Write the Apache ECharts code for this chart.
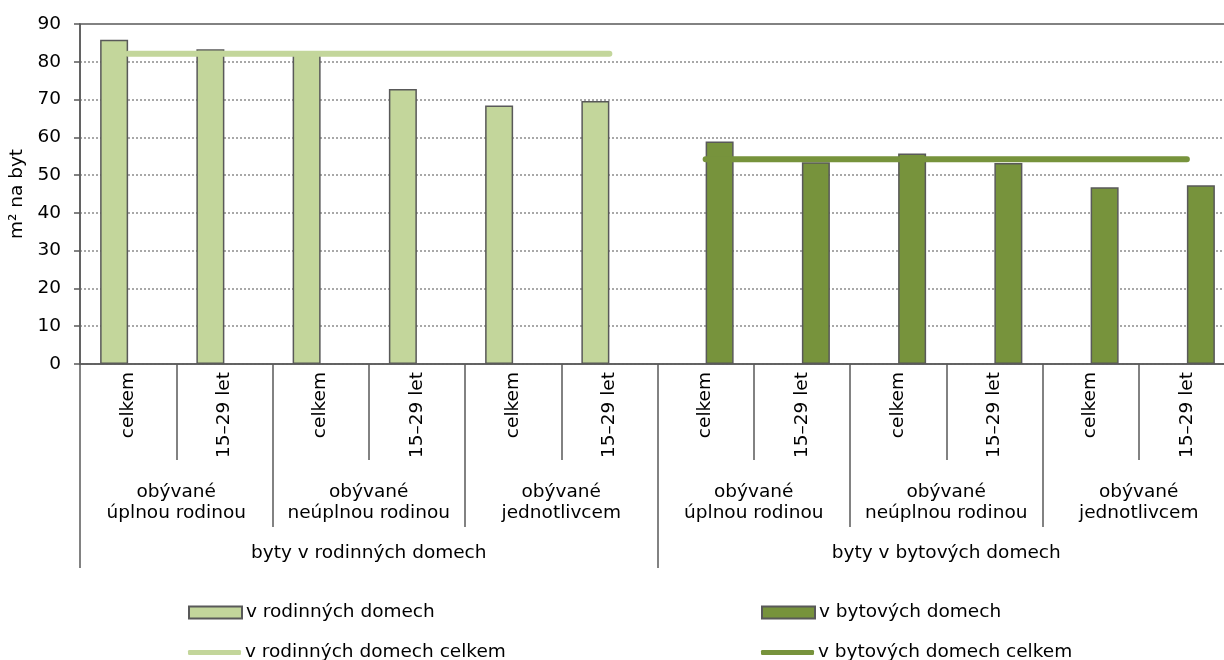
<!DOCTYPE html>
<html>
<head>
<meta charset="utf-8">
<script src="https://cdn.jsdelivr.net/npm/echarts@6/dist/echarts.min.js"></script>
<style>
  html, body { margin: 0; padding: 0; background: #fff; }
  #chart { width: 1224px; height: 660px; }
</style>
</head>
<body>
<div id="chart"></div>
<script>
// 数据
const ageLabels = ['celkem', '15–29 let', 'celkem', '15–29 let', 'celkem', '15–29 let',
  'celkem', '15–29 let', 'celkem', '15–29 let', 'celkem', '15–29 let']
const groupLabels = ['obývané\núplnou rodinou', 'obývané\nneúplnou rodinou', 'obývané\njednotlivcem',
  'obývané\núplnou rodinou', 'obývané\nneúplnou rodinou', 'obývané\njednotlivcem']
const houseLabels = ['byty v rodinných domech', 'byty v bytových domech']
const rodinne = [85.8, 83.3, 82.0, 72.8, 68.4, 69.6, null, null, null, null, null, null]
const bytove = [null, null, null, null, null, null, 58.9, 53.4, 55.7, 53.2, 46.8, 47.3]
const rodinneCelkem = [82.1, 82.1, 82.1, 82.1, 82.1, 82.1, null, null, null, null, null, null]
const bytoveCelkem = [null, null, null, null, null, null, 54.2, 54.2, 54.2, 54.2, 54.2, 54.2]

const font = 'DejaVu Sans'
const fs = 18.5
const dark = '#595959'
const lightGreen = '#c3d69b'
const darkGreen = '#77933c'

// 图例：每项单独定位
function legendItem (name, left, top, h) {
  return {
    left: left,
    top: top,
    padding: 0,
    itemWidth: 53,
    itemHeight: h,
    icon: h < 10 ? 'roundRect' : 'rect',
    textStyle: { fontFamily: font, fontSize: fs, color: '#000', padding: [0, 0, 0, -1] },
    data: [name]
  }
}

const myChart = echarts.init(document.getElementById('chart'))
myChart.setOption({
  animation: false,
  textStyle: { fontFamily: font, color: '#000' },
  // 绘图区右侧超出画布（与原图一致）
  grid: {
    left: 80,
    width: 1155,
    top: 24,
    height: 340,
    outerBoundsMode: 'none',
    containLabel: false,
    show: true,
    borderColor: dark,
    borderWidth: 1.5
  },
  legend: [
    legendItem('v rodinných domech', 188, 603, 12),
    legendItem('v rodinných domech celkem', 188, 643, 5),
    legendItem('v bytových domech', 761, 603, 12),
    legendItem('v bytových domech celkem', 761, 643, 5)
  ],
  xAxis: [
    {
      type: 'category',
      data: ageLabels,
      axisLine: { lineStyle: { color: dark, width: 1.5 } },
      axisTick: { show: true, length: 96, lineStyle: { color: dark, width: 1.5 } },
      axisLabel: { rotate: 90, margin: 8, fontSize: fs, color: '#000', interval: 0 }
    },
    {
      type: 'category',
      position: 'bottom',
      data: groupLabels,
      axisLine: { show: false },
      axisTick: { show: true, length: 163, lineStyle: { color: dark, width: 1.5 } },
      axisLabel: { margin: 118, fontSize: fs, lineHeight: 21, color: '#000', interval: 0 }
    },
    {
      type: 'category',
      position: 'bottom',
      data: houseLabels,
      axisLine: { show: false },
      axisTick: { show: true, length: 204, lineStyle: { color: dark, width: 1.5 } },
      axisLabel: { margin: 180, fontSize: fs, color: '#000', interval: 0 }
    }
  ],
  yAxis: {
    type: 'value',
    min: 0,
    max: 90,
    interval: 10,
    name: 'm² na byt',
    nameLocation: 'middle',
    nameGap: 50,
    nameTextStyle: { fontFamily: font, fontSize: fs, color: '#000' },
    axisLine: { show: true, lineStyle: { color: dark, width: 1.5 } },
    axisTick: { show: true, length: 6, lineStyle: { color: dark, width: 1.5 } },
    axisLabel: { fontSize: fs, color: '#000', margin: 19 },
    splitLine: {
      showMaxLine: false,
      lineStyle: { color: '#8c8c8c', type: [2, 2], width: 1.5 }
    }
  },
  series: [
    {
      name: 'v rodinných domech',
      type: 'bar',
      data: rodinne,
      barWidth: 28,
      barGap: '0%',
      itemStyle: { color: lightGreen, borderColor: dark, borderWidth: 1.5 }
    },
    {
      name: 'v bytových domech',
      type: 'bar',
      data: bytove,
      barWidth: 28,
      barGap: '0%',
      itemStyle: { color: darkGreen, borderColor: dark, borderWidth: 1.5 }
    },
    {
      name: 'v rodinných domech celkem',
      type: 'line',
      data: rodinneCelkem,
      symbol: 'none',
      z: 3,
      itemStyle: { color: lightGreen },
      lineStyle: { color: lightGreen, width: 6, cap: 'round' }
    },
    {
      name: 'v bytových domech celkem',
      type: 'line',
      data: bytoveCelkem,
      symbol: 'none',
      z: 3,
      itemStyle: { color: darkGreen },
      lineStyle: { color: darkGreen, width: 6, cap: 'round' }
    }
  ]
})
</script>
</body>
</html>
